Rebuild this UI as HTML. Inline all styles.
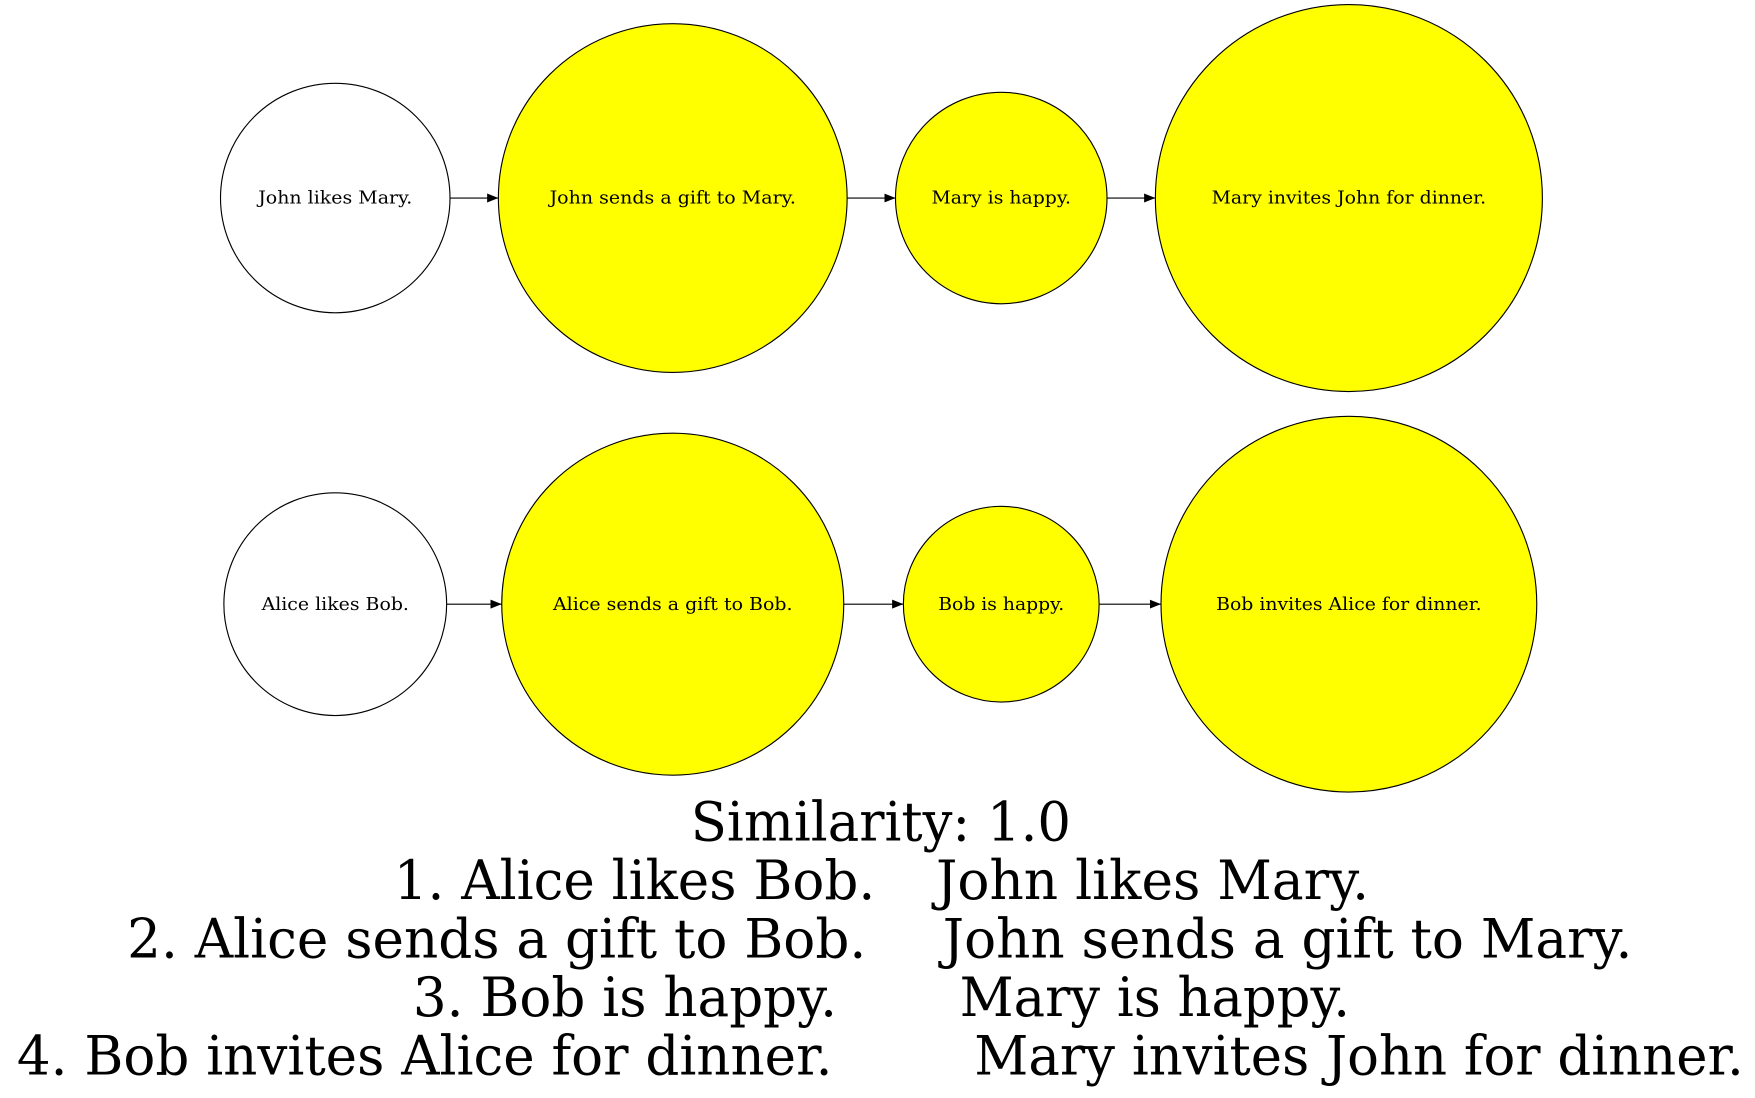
<!DOCTYPE html>
<html><head><meta charset="utf-8"><style>html,body{margin:0;padding:0;background:#fff}svg{display:block}</style></head>
<body>
<svg width="1755" height="1098" viewBox="0 0 1560 976" preserveAspectRatio="none" xmlns="http://www.w3.org/2000/svg" font-family="'DejaVu Serif','Liberation Serif',serif">
<defs><marker id="a" markerWidth="10" markerHeight="8" refX="10" refY="4" orient="auto" markerUnits="userSpaceOnUse"><path d="M0,0 L10,4 L0,8 Z" fill="#000"/></marker></defs>
<g stroke="#000" stroke-width="1">
<circle cx="298" cy="176" r="102" fill="#fff"/>
<circle cx="598" cy="176" r="155" fill="#ff0"/>
<circle cx="890" cy="176" r="94" fill="#ff0"/>
<circle cx="1199" cy="176" r="172" fill="#ff0"/>
<circle cx="298" cy="537" r="99" fill="#fff"/>
<circle cx="598" cy="537" r="152" fill="#ff0"/>
<circle cx="890" cy="537" r="87" fill="#ff0"/>
<circle cx="1199" cy="537" r="167" fill="#ff0"/>
<line x1="400" y1="176" x2="443" y2="176" marker-end="url(#a)"/>
<line x1="753" y1="176" x2="796" y2="176" marker-end="url(#a)"/>
<line x1="984" y1="176" x2="1027" y2="176" marker-end="url(#a)"/>
<line x1="397" y1="537" x2="446" y2="537" marker-end="url(#a)"/>
<line x1="750" y1="537" x2="803" y2="537" marker-end="url(#a)"/>
<line x1="977" y1="537" x2="1032" y2="537" marker-end="url(#a)"/>
</g>
<g font-size="16" text-anchor="middle">
<text x="298" y="181" textLength="137" lengthAdjust="spacingAndGlyphs">John likes Mary.</text>
<text x="598" y="181" textLength="219" lengthAdjust="spacingAndGlyphs">John sends a gift to Mary.</text>
<text x="890" y="181" textLength="124" lengthAdjust="spacingAndGlyphs">Mary is happy.</text>
<text x="1199" y="181" textLength="244" lengthAdjust="spacingAndGlyphs">Mary invites John for dinner.</text>
<text x="298" y="542" textLength="131" lengthAdjust="spacingAndGlyphs">Alice likes Bob.</text>
<text x="598" y="542" textLength="213" lengthAdjust="spacingAndGlyphs">Alice sends a gift to Bob.</text>
<text x="890" y="542" textLength="112" lengthAdjust="spacingAndGlyphs">Bob is happy.</text>
<text x="1199" y="542" textLength="236" lengthAdjust="spacingAndGlyphs">Bob invites Alice for dinner.</text>
</g>
<g font-size="48">
<text x="614" y="747" textLength="338" lengthAdjust="spacingAndGlyphs">Similarity: 1.0</text>
<text x="350" y="799" textLength="428" lengthAdjust="spacingAndGlyphs">1. Alice likes Bob.</text>
<text x="832" y="799" textLength="385" lengthAdjust="spacingAndGlyphs">John likes Mary.</text>
<text x="113" y="851" textLength="657" lengthAdjust="spacingAndGlyphs">2. Alice sends a gift to Bob.</text>
<text x="838" y="851" textLength="613" lengthAdjust="spacingAndGlyphs">John sends a gift to Mary.</text>
<text x="367" y="903" textLength="377" lengthAdjust="spacingAndGlyphs">3. Bob is happy.</text>
<text x="853" y="903" textLength="347" lengthAdjust="spacingAndGlyphs">Mary is happy.</text>
<text x="15" y="955" textLength="725" lengthAdjust="spacingAndGlyphs">4. Bob invites Alice for dinner.</text>
<text x="866" y="955" textLength="684" lengthAdjust="spacingAndGlyphs">Mary invites John for dinner.</text>
</g>
</svg>
</body></html>
